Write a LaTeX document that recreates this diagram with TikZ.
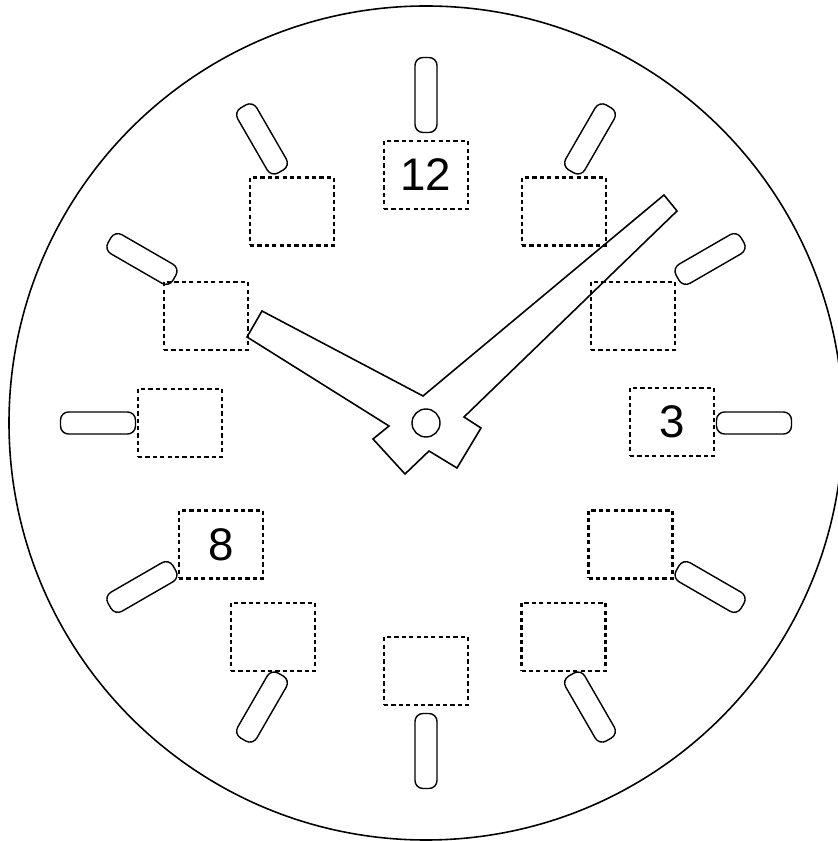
\documentclass[tikz,border=0pt]{standalone}
\usepackage{fontspec}
\setmainfont{Liberation Sans}
\usetikzlibrary{calc}

\begin{document}
\begin{tikzpicture}[
    hourmark/.style={draw=black, rounded corners=0.8mm, minimum width=7.5mm, minimum height=2.2mm, inner sep=0pt},
    numbox/.style={draw=black, line width=0.7pt, dash pattern=on 1.2pt off 0.9pt, minimum width=8.4mm, minimum height=6.8mm, inner sep=0pt, font=\fontsize{13}{15}\selectfont}
]
    \useasboundingbox (-4.26,-4.18) rectangle (4.11,4.23);
    \draw[line width=0.45pt] (0,0) circle (4.17cm);
    % hour marks
    \foreach \i in {1,...,12} {
        \node[hourmark, rotate={90-\i*30}] (m\i) at ({90-\i*30}:3.28) {};
    }
    % number boxes
    \foreach \i/\x/\y/\txt in {12/0/2.48/12, 1/1.38/2.115/{}, 2/2.07/1.07/{}, 3/2.46/0.01/3,
        4/2.045/-1.215/{}, 5/1.375/-2.14/{}, 6/0/-2.48/{}, 7/-1.53/-2.14/{},
        8/-2.05/-1.215/8, 9/-2.46/0/{}, 10/-2.20/1.07/{}, 11/-1.34/2.115/{}} {
        \node[numbox] (b\i) at (\x,\y) {\txt};
    }
    % hands
    \draw[line width=0.45pt] (2.38,2.28) -- (2.51,2.12) -- (0.38,0.06) -- (0.55,-0.05) -- (0.31,-0.45)
        -- (0.03,-0.28) -- (-0.21,-0.51) -- (-0.53,-0.16) -- (-0.37,-0.03)
        -- (-1.79,0.86) -- (-1.64,1.12) -- (-0.03,0.27) -- cycle;
    \node[circle, draw=black, minimum size=2.8mm, inner sep=0pt] (pivot) at (0,0) {};
\end{tikzpicture}
\end{document}
